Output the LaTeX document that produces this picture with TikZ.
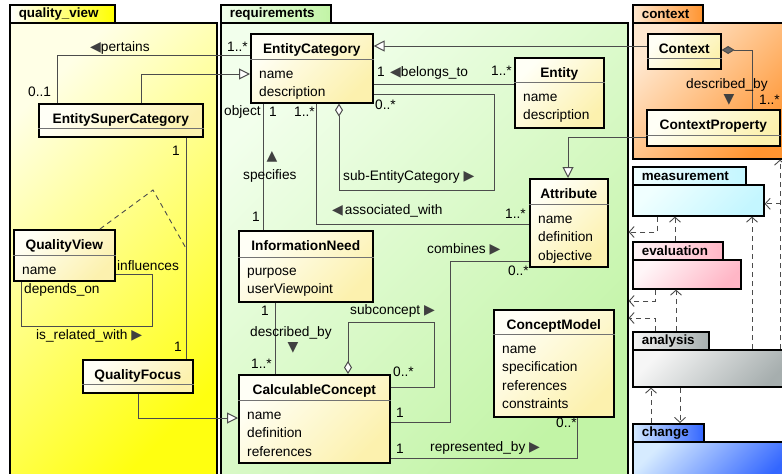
\documentclass[tikz,border=0pt]{standalone}
\usepackage{fontspec}
\setmainfont{Liberation Sans}
\newfontfamily\trifont{DejaVu Sans}
\usepackage{xcolor}
\usepackage{tikz}
\usetikzlibrary{arrows.meta, positioning, calc}

\definecolor{clsA}{HTML}{FFFFF6}
\definecolor{clsB}{HTML}{FCF1AE}
\definecolor{qvA}{HTML}{FFFFE6}
\definecolor{qvB}{HTML}{FFFF10}
\definecolor{reqA}{HTML}{F2FFEC}
\definecolor{reqB}{HTML}{C2F4A6}
\definecolor{ctxA}{HTML}{FFE8D0}
\definecolor{ctxB}{HTML}{FF9430}
\definecolor{measA}{HTML}{F0FFFF}
\definecolor{measB}{HTML}{C4F6FF}
\definecolor{evalA}{HTML}{FFF6F8}
\definecolor{evalB}{HTML}{FFB6C6}
\definecolor{analA}{HTML}{F6F6F6}
\definecolor{analB}{HTML}{A6AEAE}
\definecolor{chgA}{HTML}{D6EBFF}
\definecolor{chgB}{HTML}{3366FF}

\newcommand{\arrowL}{{\trifont\fontsize{14}{14}\selectfont\textcolor{black!75}{◀}}}
\newcommand{\arrowR}{{\trifont\fontsize{14}{14}\selectfont\textcolor{black!75}{▶}}}
\newcommand{\arrowU}{{\trifont\fontsize{14}{14}\selectfont\textcolor{black!75}{▲}}}
\newcommand{\arrowD}{{\trifont\fontsize{14}{14}\selectfont\textcolor{black!75}{▼}}}

\begin{document}
\begin{tikzpicture}[x=1pt, y=-1pt,
    font=\fontsize{13.7}{18}\selectfont,
    pkg/.style 2 args={draw=black, line width=1.6pt, anchor=north west, inner sep=0pt, top color=#1, bottom color=#2, shading angle=45},
    tab/.style 2 args={draw=black, line width=1.6pt, anchor=north west, inner xsep=9pt, inner ysep=0pt, minimum height=18pt, align=left, left color=#1, right color=#2, font=\fontsize{13.4}{16}\selectfont\bfseries},
    cls/.style={draw=black, line width=1.6pt, anchor=north west, inner sep=0pt, top color=clsA, bottom color=clsB, shading angle=45},
    ctitle/.style={anchor=base, inner sep=0pt, font=\fontsize{13.7}{18}\selectfont\bfseries},
    attr/.style={anchor=base west, inner sep=0pt},
    divider/.style={draw=black!55, line width=0.8pt},
    lbl/.style={anchor=west, inner sep=0pt, text height=9.5pt, text depth=2.5pt},
    assoc/.style={draw=black!70, line width=1pt},
    gen/.style={assoc, -{Triangle[length=11pt, width=11pt, fill=white]}},
    aggr/.style={assoc, {Diamond[length=13pt, width=8pt, fill=white]}-},
    comp/.style={assoc, {Diamond[length=13pt, width=8pt, fill=black!60]}-},
    dep/.style={draw=black!70, line width=0.9pt, dash pattern=on 5pt off 4pt, -{Straight Barb[length=5pt, width=11pt]}},
    note/.style={draw=black!70, line width=0.9pt, dash pattern=on 5pt off 4pt}
]
\useasboundingbox (0,0) rectangle (782,474);
\clip (0,0) rectangle (782,474);
\fill[white] (0,0) rectangle (782,474);

% packages
\node[pkg={qvA}{qvB}, minimum width=207, minimum height=460] (qv) at (9,22) {};
\node[tab={white}{yellow}, minimum width=105, text width=87] (qvtab) at (9,4) {quality\_view};
\node[pkg={reqA}{reqB}, minimum width=407, minimum height=460] (req) at (220,22) {};
\node[tab={reqA}{reqB}, minimum width=110, text width=92] (reqtab) at (220,4) {requirements};
\node[pkg={ctxA}{ctxB}, minimum width=160, minimum height=136] (ctx) at (632,22) {};
\node[tab={ctxA}{ctxB}, minimum width=70, text width=52] (ctxtab) at (632,4) {context};
\node[pkg={measA}{measB}, minimum width=131, minimum height=31] (meas) at (632,184) {};
\node[tab={measA}{measB}, minimum width=113, text width=95] (meastab) at (632,166) {measurement};
\node[pkg={evalA}{evalB}, minimum width=108, minimum height=29] (eval) at (632,259) {};
\node[tab={evalA}{evalB}, minimum width=90, text width=72] (evaltab) at (632,241) {evaluation};
\node[pkg={analA}{analB}, minimum width=160, minimum height=37] (anal) at (632,349) {};
\node[tab={analA}{analB}, minimum width=76, text width=58] (analtab) at (632,331) {analysis};
\node[pkg={chgA}{chgB}, minimum width=160, minimum height=40] (chg) at (632,441) {};
\node[tab={chgA}{chgB}, minimum width=71, text width=53] (chgtab) at (632,423) {change};

% package dependencies
\draw[dep] ([xshift=25]meas.south west) |- (req.east |- 0,232);
\draw[dep] ([xshift=43]evaltab.north west) -- ([xshift=43]meas.south west);
\draw[dep] ([xshift=120]anal.north west) -- ([xshift=120]meas.south west);
\draw[dep] ([xshift=148]anal.north west) -- ([xshift=148]ctx.south west);
\draw[dep] ([xshift=148]anal.north west) |- ([yshift=-3.5]meas.east);
\draw[dep] ([xshift=23]eval.south west) |- (req.east |- 0,301);
\draw[dep] ([xshift=23]analtab.north west) |- (req.east |- 0,318);
\draw[dep] ([xshift=44]analtab.north west) -- ([xshift=44]eval.south west);
\draw[dep] ([xshift=19]chgtab.north west) -- ([xshift=19]anal.south west);
\draw[dep] ([xshift=48]anal.south west) -- ([xshift=48]chgtab.north west);

% classes
\node[cls, minimum width=122, minimum height=69] (ecat) at (250,33) {};
\node[cls, minimum width=89, minimum height=70] (entity) at (514,57) {};
\node[cls, minimum width=78, minimum height=88] (attr) at (529,178) {};
\node[cls, minimum width=134, minimum height=71] (info) at (238,230) {};
\node[cls, minimum width=151, minimum height=88] (calc) at (238,374) {};
\node[cls, minimum width=120, minimum height=107] (cmodel) at (493,309) {};
\node[cls, minimum width=164, minimum height=33] (esc) at (38,103) {};
\node[cls, minimum width=101, minimum height=51] (qview) at (13,229) {};
\node[cls, minimum width=110, minimum height=33] (qfocus) at (82,359) {};
\node[cls, minimum width=73, minimum height=35] (context) at (647,33) {};
\node[cls, minimum width=133, minimum height=36] (ctxprop) at (646,109) {};

% associations
\draw[gen] ([xshift=103]esc.north west) |- ([yshift=-41]ecat.north west);
\draw[assoc] ([xshift=19]esc.north west) |- ([yshift=-22]ecat.north west);
\draw[assoc] ([xshift=148]esc.south west) -- coordinate[pos=0.5] (focusmid) ([xshift=104]qfocus.north west);
\draw[note] ([xshift=87]qview.north west) -- (153,190) -- (focusmid);
\draw[assoc] ([xshift=8]qview.south west) -- ++(0,45) -| ([xshift=37, yshift=-45]qview.north east) -- ([yshift=-45]qview.north east);
\draw[gen] ([xshift=56]qfocus.south west) |- ([yshift=-44]calc.north west);
\draw[assoc] ([yshift=-51]ecat.north east) -- ([yshift=-51]ecat.north east -| entity.west);
\draw[gen] ([yshift=-13]context.north west) -- ([yshift=-13]context.north west -| ecat.east);
\draw[aggr] ([xshift=89]ecat.south west) -- ++(0,87) -| ([xshift=121, yshift=-61]ecat.north east) -- ([yshift=-61]ecat.north east);
\draw[assoc] ([xshift=66]ecat.south west) |- ([yshift=-46]attr.north west);
\draw[assoc] ([xshift=13]ecat.south west) -- ([xshift=25]info.north west);
\draw[assoc] ([xshift=37]info.south west) -- ([xshift=37]calc.north west);
\draw[aggr] ([xshift=110]calc.north west) -- ++(0,-52) -| ([xshift=44, yshift=-13]calc.north east) -- ([yshift=-13]calc.north east);
\draw[assoc] ([yshift=-48]calc.north east) -- ++(60,0) |- ([yshift=-83]attr.north west);
\draw[assoc] ([yshift=-84]calc.north east) -| ([xshift=84]cmodel.south west);
\draw[comp] ([yshift=-17]context.north east) -| ([xshift=106]ctxprop.north west);
\draw[gen] ([yshift=-28]ctxprop.north west) -| ([xshift=39]attr.north west);

% class titles and compartments
\node[ctitle] (ecat-t) at ([yshift=-20]ecat.north) {EntityCategory};
\draw[divider] ([yshift=-26]ecat.north west) -- ([yshift=-26]ecat.north east);
\foreach \a [count=\i from 0] in {name, description}
    \node[attr] (ecat-a\i) at ([xshift=9, yshift={-45-18*\i}]ecat.north west) {\a};

\node[ctitle] (entity-t) at ([yshift=-20]entity.north) {Entity};
\draw[divider] ([yshift=-25]entity.north west) -- ([yshift=-25]entity.north east);
\foreach \a [count=\i from 0] in {name, description}
    \node[attr] (entity-a\i) at ([xshift=9, yshift={-44-18*\i}]entity.north west) {\a};

\node[ctitle] (attr-t) at ([yshift=-20]attr.north) {Attribute};
\draw[divider] ([yshift=-26]attr.north west) -- ([yshift=-26]attr.north east);
\foreach \a [count=\i from 0] in {name, definition, objective}
    \node[attr] (attr-a\i) at ([xshift=9, yshift={-45-18.5*\i}]attr.north west) {\a};

\node[ctitle] (info-t) at ([yshift=-20]info.north) {InformationNeed};
\draw[divider] ([yshift=-27]info.north west) -- ([yshift=-27]info.north east);
\foreach \a [count=\i from 0] in {purpose, userViewpoint}
    \node[attr] (info-a\i) at ([xshift=9, yshift={-45-18.5*\i}]info.north west) {\a};

\node[ctitle] (calc-t) at ([yshift=-20]calc.north) {CalculableConcept};
\draw[divider] ([yshift=-26]calc.north west) -- ([yshift=-26]calc.north east);
\foreach \a [count=\i from 0] in {name, definition, references}
    \node[attr] (calc-a\i) at ([xshift=9, yshift={-45-18.5*\i}]calc.north west) {\a};

\node[ctitle] (cmodel-t) at ([yshift=-20]cmodel.north) {ConceptModel};
\draw[divider] ([yshift=-25]cmodel.north west) -- ([yshift=-25]cmodel.north east);
\foreach \a [count=\i from 0] in {name, specification, references, constraints}
    \node[attr] (cmodel-a\i) at ([xshift=9, yshift={-44-18.5*\i}]cmodel.north west) {\a};

\node[ctitle] (esc-t) at ([yshift=-20]esc.north) {EntitySuperCategory};
\draw[divider] ([yshift=-25]esc.north west) -- ([yshift=-25]esc.north east);

\node[ctitle] (qview-t) at ([yshift=-20]qview.north) {QualityView};
\draw[divider] ([yshift=-26]qview.north west) -- ([yshift=-26]qview.north east);
\node[attr] (qview-a0) at ([xshift=9, yshift=-45]qview.north west) {name};

\node[ctitle] (qfocus-t) at ([yshift=-20]qfocus.north) {QualityFocus};
\draw[divider] ([yshift=-25]qfocus.north west) -- ([yshift=-25]qfocus.north east);

\node[ctitle] (context-t) at ([yshift=-20]context.north) {Context};
\draw[divider] ([yshift=-25]context.north west) -- ([yshift=-25]context.north east);

\node[ctitle] (ctxprop-t) at ([yshift=-20]ctxprop.north) {ContextProperty};
\draw[divider] ([yshift=-26]ctxprop.north west) -- ([yshift=-26]ctxprop.north east);

% association labels, quality_view
\node[lbl] (pertainsl) at (90,48) {\arrowL pertains};
\node[lbl] (pertains1) at (28,93) {0..1};
\node[lbl] (esc1) at (172,152) {1};
\node[lbl] (qfocus1) at (174,348) {1};
\node[lbl] (influencesl) at (117,267) {influences};
\node[lbl] (dependsl) at (24,290) {depends\_on};
\node[lbl] (relatedl) at (36,336) {is\_related\_with \arrowR};

% association labels, requirements
\node[lbl] (pertains2) at (227,48) {1..*};
\node[lbl] (objectl) at (224,112) {object};
\node[lbl] (specifies1) at (269,113) {1};
\node[lbl] (associated1) at (294,113) {1..*};
\node[lbl, anchor=center] (specifiesa) at (272,157) {\arrowU};
\node[lbl] (specifiesl) at (243,176) {specifies};
\node[lbl] (specifies2) at (252,218) {1};
\node[lbl] (belongs1) at (377,73) {1};
\node[lbl] (belongsl) at (390,73) {\arrowL belongs\_to};
\node[lbl] (belongs2) at (491,72) {1..*};
\node[lbl] (subcat1) at (375,106) {0..*};
\node[lbl] (subcatl) at (343,177) {sub-EntityCategory \arrowR};
\node[lbl] (associatedl) at (332,211) {\arrowL\kern2pt associated\_with};
\node[lbl] (associated2) at (505,215) {1..*};
\node[lbl] (combinesl) at (427,250) {combines \arrowR};
\node[lbl] (combines2) at (508,272) {0..*};
\node[lbl] (described1) at (261,312) {1};
\node[lbl] (describedl) at (250,333) {described\_by};
\node[lbl, anchor=center] (describeda) at (293,348) {\arrowD};
\node[lbl] (described2) at (251,365) {1..*};
\node[lbl] (subconceptl) at (350,311) {subconcept \arrowR};
\node[lbl] (subconcept1) at (393,373) {0..*};
\node[lbl] (combines1) at (396,414) {1};
\node[lbl] (represented1) at (396,450) {1};
\node[lbl] (representedl) at (430,448) {represented\_by \arrowR};
\node[lbl] (represented2) at (556,424) {0..*};

% association labels, context
\node[lbl] (ctxdescl) at (686,85) {described\_by};
\node[lbl, anchor=center] (ctxdesca) at (729,100) {\arrowD};
\node[lbl] (ctxdesc2) at (759,101) {1..*};
\end{tikzpicture}
\end{document}
